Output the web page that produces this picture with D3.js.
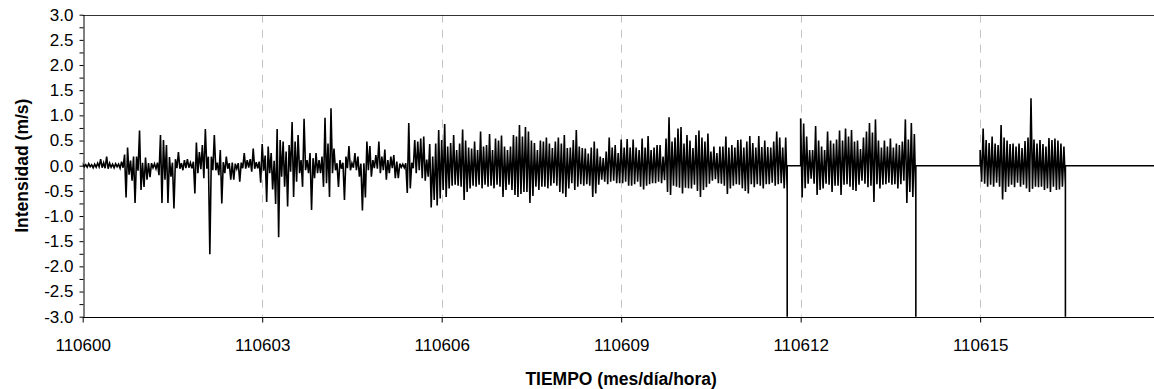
<!DOCTYPE html>
<html>
<head>
<meta charset="utf-8">
<script src="https://cdn.jsdelivr.net/npm/d3@7"></script>
<style>
  html, body { margin: 0; padding: 0; background: #fff; }
  svg { display: block; font-family: "Liberation Sans", Arial, sans-serif; }
</style>
</head>
<body>
<svg id="chart" width="1154" height="389"></svg>
<script>
// Time axis (mes/día/hora) and intensity axis settings
const X_MIN = 110600, X_MAX = 110618;
const Y_MIN = -3, Y_MAX = 3;
const xTickValues = [110600, 110603, 110606, 110609, 110612, 110615];
const yTickValues = d3.range(-12, 13).map(k => k * 0.25);
const yLabelValues = d3.range(-6, 7).map(k => k * 0.5);

// Sampling interval of each record (in axis units); each sample keeps its max and min
const STEP = 0.05;

// Record 1: starts 110600
const seg1Start = 110600.00;
const seg1Hi = [
  .03,.02,.04,.02,.03,.05,.13,.06,.18,.05,
  .03,.04,.03,.08,.22,.36,.10,.18,.18,.70,
  .06,.16,.05,.05,.04,.06,.61,.51,.41,.17,
  .06,.13,.27,.05,.11,.13,.06,.08,.46,.27,
  .41,.73,.18,.18,.61,.06,.31,.07,.18,.05,
  .06,.04,.05,.06,.25,.11,.13,.34,.07,.08,
  .43,.20,.38,.25,.10,.73,.51,.48,.28,.41,
  .87,.48,.61,.11,.93,.11,.25,.15,.25,.11,
  .18,.95,.44,1.14,.34,.05,.11,.06,.18,.39,
  .05,.25,.18,.04,.05,.48,.39,.11,.21,.48,
  .18,.32,.11,.18,.21,.08,.04,.03,.05,.85,
  .06,.51,.48,.54,.58,.12,.43,.18,.44,.71,
  .51,.83,.38,.45,.61,.31,.44,.72,.50,.36,
  .34,.48,.31,.68,.38,.41,.63,.31,.54,.50,
  .60,.38,.31,.38,.61,.58,.81,.58,.77,.68,
  .50,.45,.31,.50,.48,.56,.44,.35,.48,.56,
  .44,.61,.35,.36,.51,.71,.38,.35,.34,.24,
  .36,.48,.34,.18,.15,.28,.56,.36,.41,.25,
  .52,.36,.53,.36,.52,.36,.31,.54,.36,.59,
  .31,.36,.41,.41,.18,.54,.96,.48,.56,.74,
  .77,.44,.61,.50,.35,.61,.70,.56,.48,.64,
  .28,.38,.25,.38,.38,.58,.36,.41,.36,.51,
  .52,.36,.48,.59,.45,.36,.59,.37,.50,.37,
  .36,.48,.68,.56,.36,.56
];
const seg1Lo = [
  -.02,-.03,-.02,-.04,-.03,-.02,-.04,-.05,-.06,-.03,
  -.04,-.02,-.05,-.04,-.63,-.18,-.30,-.74,-.10,-.48,
  -.42,-.28,-.23,-.04,-.06,-.19,-.74,-.28,-.74,-.22,
  -.85,-.05,-.06,-.09,-.05,-.04,-.05,-.55,-.15,-.07,
  -.25,-.06,-1.76,-.09,-.09,-.19,-.75,-.15,-.06,-.28,
  -.28,-.06,-.32,-.05,-.06,-.04,-.12,-.06,-.05,-.34,
  -.10,-.72,-.15,-.47,-.76,-1.42,-.22,-.42,-.81,-.12,
  -.62,-.32,-.15,-.42,-.09,-.15,-.88,-.25,-.15,-.15,
  -.42,-.35,-.62,-.15,-.09,-.42,-.06,-.68,-.05,-.09,
  -.04,-.09,-.22,-.89,-.63,-.09,-.22,-.05,-.06,-.15,
  -.09,-.28,-.15,-.05,-.25,-.25,-.03,-.04,-.54,-.45,
  -.05,-.15,-.09,-.25,-.30,-.22,-.83,-.68,-.79,-.65,
  -.48,-.62,-.45,-.40,-.38,-.40,-.42,-.68,-.52,-.45,
  -.40,-.42,-.38,-.45,-.38,-.42,-.40,-.45,-.38,-.42,
  -.62,-.48,-.38,-.48,-.58,-.62,-.56,-.52,-.52,-.74,
  -.60,-.42,-.48,-.42,-.42,-.45,-.40,-.35,-.40,-.52,
  -.55,-.62,-.45,-.35,-.48,-.42,-.37,-.40,-.37,-.40,
  -.62,-.55,-.38,-.28,-.32,-.37,-.32,-.30,-.35,-.35,
  -.35,-.32,-.40,-.40,-.37,-.32,-.42,-.47,-.40,-.37,
  -.35,-.35,-.32,-.35,-.29,-.52,-.58,-.40,-.42,-.44,
  -.55,-.44,-.45,-.45,-.38,-.50,-.62,-.48,-.43,-.36,
  -.30,-.27,-.35,-.36,-.40,-.56,-.45,-.40,-.37,-.38,
  -.45,-.50,-.55,-.37,-.43,-.37,-.40,-.45,-.37,-.37,
  -.34,-.40,-.37,-.35,-.45,-.52
];

// Record 2: starts 110612
const seg2Start = 110612.00;
const seg2Hi = [
  .94,.84,.58,.31,.31,.79,.50,.38,.31,.68,
  .50,.44,.52,.70,.50,.74,.58,.71,.48,.50,
  .33,.56,.68,.85,.66,.92,.50,.36,.50,.38,
  .54,.36,.44,.41,.48,.92,.52,.85,.63
];
const seg2Lo = [
  -.63,-.45,-.36,-.26,-.36,-.58,-.48,-.45,-.36,-.38,
  -.52,-.40,-.40,-.58,-.38,-.37,-.42,-.48,-.50,-.38,
  -.30,-.36,-.43,-.40,-.72,-.37,-.45,-.38,-.37,-.34,
  -.38,-.37,-.45,-.37,-.30,-.74,-.52,-.62,-.62
];

// Record 3: starts 110615
const seg3Start = 110615.00;
const seg3Hi = [
  .31,.74,.51,.45,.58,.44,.41,.81,.56,.50,
  .43,.44,.38,.44,.35,.49,.56,1.34,.52,.44,
  .51,.43,.38,.55,.51,.54,.50,.44,.38
];
const seg3Lo = [
  -.32,-.36,-.42,-.38,-.42,-.34,-.42,-.67,-.52,-.42,
  -.38,-.43,-.34,-.42,-.38,-.45,-.52,-.46,-.42,-.43,
  -.42,-.48,-.45,-.52,-.42,-.48,-.47,-.42,-.38
];

// End of each record: the logger writes a missing-value flag, then zeros until the next record
const dropoutTimes = [110611.775, 110613.925, 110616.425];
const DROPOUT_VALUE = -99.99;

// ---- layout ----
const W = 1154, H = 389;
const plot = { left: 82.7, top: 14.7, bottom: 316.7 };
const svg = d3.select("#chart");

const x = d3.scaleLinear().domain([X_MIN, X_MAX]).range([plot.left, plot.left + (X_MAX - X_MIN) * 59.83]);
const y = d3.scaleLinear().domain([Y_MIN, Y_MAX]).range([plot.bottom, plot.top]);

// ---- assemble the trace ----
const records = [
  { start: seg1Start, hi: seg1Hi, lo: seg1Lo },
  { start: seg2Start, hi: seg2Hi, lo: seg2Lo },
  { start: seg3Start, hi: seg3Hi, lo: seg3Lo }
];
const pts = [];
records.forEach((r, k) => {
  pts.push([r.start, 0]);
  r.hi.forEach((h, i) => {
    const t = r.start + i * STEP;
    pts.push([t, h]);
    pts.push([t + STEP / 2, r.lo[i]]);
  });
  pts.push([dropoutTimes[k], DROPOUT_VALUE]);
  pts.push([dropoutTimes[k], 0]);
});
pts.push([X_MAX, 0]);

// ---- gridlines ----
svg.append("g")
  .selectAll("line")
  .data(xTickValues.filter(v => v !== X_MIN))
  .join("line")
  .attr("x1", d => Math.round(x(d)) + 0.5).attr("x2", d => Math.round(x(d)) + 0.5)
  .attr("y1", y(Y_MAX)).attr("y2", y(Y_MIN))
  .attr("stroke", "#c4c4c4")
  .attr("stroke-width", 1)
  .attr("stroke-dasharray", "8,7");

// ---- data ----
svg.append("clipPath").attr("id", "plotClip")
  .append("rect")
  .attr("x", plot.left).attr("y", plot.top)
  .attr("width", W - plot.left).attr("height", plot.bottom - plot.top);

const line = d3.line().x(d => x(d[0])).y(d => y(d[1]));
svg.append("path")
  .datum(pts)
  .attr("clip-path", "url(#plotClip)")
  .attr("d", line)
  .attr("fill", "none")
  .attr("stroke", "#000")
  .attr("stroke-width", 1.6)
  .attr("stroke-linejoin", "miter");

// ---- top frame ----
svg.append("line")
  .attr("x1", plot.left).attr("x2", W)
  .attr("y1", Math.round(y(Y_MAX)) + 0.5).attr("y2", Math.round(y(Y_MAX)) + 0.5)
  .attr("stroke", "#333").attr("stroke-width", 1);

// ---- axes ----
const xAxis = d3.axisBottom(x)
  .tickValues(xTickValues)
  .tickFormat(d => String(d))
  .tickSize(5)
  .tickSizeOuter(0)
  .tickPadding(16);
const gx = svg.append("g")
  .attr("transform", `translate(0,${Math.round(plot.bottom) + 0.5})`)
  .call(xAxis);
gx.select(".domain").attr("d", `M${plot.left},0H${W}`).attr("stroke", "#000");
gx.selectAll(".tick line").attr("stroke", "#000");
gx.selectAll(".tick text")
  .attr("font-size", 17)
  .attr("font-family", "Liberation Sans, Arial, sans-serif")
  .attr("fill", "#000");

const yAxis = d3.axisLeft(y)
  .tickValues(yTickValues)
  .tickFormat(d => yLabelValues.some(v => Math.abs(v - d) < 1e-9) ? d.toFixed(1) : "")
  .tickSize(4)
  .tickSizeOuter(0)
  .tickPadding(6);
const gy = svg.append("g")
  .attr("transform", `translate(${Math.round(plot.left) + 0.5},0)`)
  .call(yAxis);
gy.select(".domain").attr("stroke", "#000");
gy.selectAll(".tick line").attr("stroke", "#000");
gy.selectAll(".tick text")
  .attr("font-size", 17)
  .attr("font-family", "Liberation Sans, Arial, sans-serif")
  .attr("fill", "#000");

// ---- axis titles ----
svg.append("text")
  .attr("x", (plot.left + x(X_MAX)) / 2)
  .attr("y", 385)
  .attr("text-anchor", "middle")
  .attr("font-size", 17.5)
  .attr("font-weight", "bold")
  .attr("fill", "#000")
  .text("TIEMPO (mes/día/hora)");

svg.append("text")
  .attr("transform", `translate(28,${(plot.top + plot.bottom) / 2}) rotate(-90)`)
  .attr("text-anchor", "middle")
  .attr("font-size", 17.5)
  .attr("font-weight", "bold")
  .attr("fill", "#000")
  .text("Intensidad (m/s)");
</script>
</body>
</html>
